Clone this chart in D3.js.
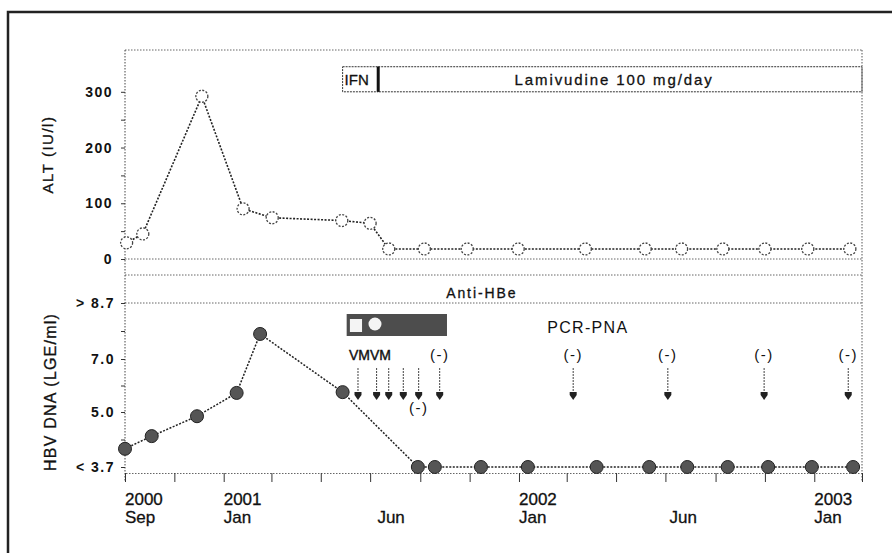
<!DOCTYPE html>
<html>
<head>
<meta charset="utf-8">
<script src="https://cdn.jsdelivr.net/npm/d3@7"></script>
<style>
    body { margin: 0; background: #fff; }
    svg { font-family: "Liberation Sans", Arial, sans-serif; }
</style>
</head>
<body>
<svg width="892" height="553"></svg>
<script>
// ALT readings (IU/l)
var altDates = ["2000-09-03", "2000-09-23", "2000-12-05", "2001-01-25", "2001-03-02", "2001-05-27",
    "2001-07-01", "2001-07-24", "2001-09-06", "2001-10-29", "2001-12-31", "2002-03-24",
    "2002-06-06", "2002-07-21", "2002-09-10", "2002-11-01", "2002-12-24", "2003-02-14"];
var altValues = [29, 45, 292, 90, 74, 69, 64, 18, 18, 18, 18, 18, 18, 18, 18, 18, 18, 18];

// HBV DNA readings (log genome equivalents / ml), 3.7 = below detection
var dnaDates = ["2000-09-01", "2000-10-04", "2000-11-29", "2001-01-17", "2001-02-15", "2001-05-28",
    "2001-08-29", "2001-09-19", "2001-11-15", "2002-01-12", "2002-04-07", "2002-06-11",
    "2002-07-28", "2002-09-16", "2002-11-05", "2002-12-29", "2003-02-18"];
var dnaValues = [4.13, 4.43, 4.9, 5.72, 7.76, 5.75, 3.7, 3.7, 3.7, 3.7, 3.7, 3.7, 3.7, 3.7, 3.7, 3.7, 3.7];

// treatments
var treatNames = ["IFN", "Lamivudine 100 mg/day"];
var treatStarts = ["2001-05-28", "2001-07-11"];
var treatEnds = ["2001-07-11", "2003-03-01"];

// PCR-PNA sampling (arrows) and results
var vmArrowDates = ["2001-06-16", "2001-07-09", "2001-07-24", "2001-08-11", "2001-08-30", "2001-09-25"];
var pcrArrowDates = ["2002-03-09", "2002-07-04", "2002-10-31", "2003-02-12"];
var pcrResultDates = ["2001-09-25", "2002-03-09", "2002-07-04", "2002-10-31", "2003-02-12"];

// axis ticks
var altTicks = [0, 50, 100, 150, 200, 250, 300];
var altTickLabels = {0: "0", 100: "100", 200: "200", 300: "300"};
var dnaTicks = [3.7, 4.35, 5.0, 6.0, 7.0, 7.85, 8.7];
var dnaTickLabels = {3.7: "< 3.7", 5: "5.0", 7: "7.0", 8.7: "> 8.7"};
var xLabelDates = ["2000-09-01", "2001-01-01", "2001-07-10", "2002-01-01", "2002-07-06", "2003-01-01"];
var xLabelYears = ["2000", "2001", "", "2002", "", "2003"];
var xLabelMonths = ["Sep", "Jan", "Jun", "Jan", "Jun", "Jan"];

var parse = d3.timeParse("%Y-%m-%d");

var svg = d3.select("svg"),
    plotLeft = 125,
    plotRight = 862,
    plotTop = 50,
    altZero = 259,
    dnaTop = 275,
    axisY = 473;

// outer frame of the figure
svg.append("rect")
    .attr("x", 8).attr("y", 12)
    .attr("width", 900).attr("height", 560)
    .attr("fill", "none")
    .attr("stroke", "#222")
    .attr("stroke-width", 2.5);

var x = d3.scaleTime()
    .domain([parse("2000-09-01"), parse("2003-03-01")])
    .range([plotLeft, plotRight]);

var yAlt = d3.scaleLinear()
    .domain([0, 375])
    .range([altZero, plotTop]);

// the DNA axis is not linear, labels sit at even steps
var yDna = d3.scaleLinear()
    .domain([3.7, 5.0, 7.0, 8.7])
    .range([467, 412, 359, 303]);

var dotted = "1.5,1.5";

// panel frame lines
var hLines = [plotTop, altZero, dnaTop, yDna(8.7)];
svg.selectAll(".hline")
    .data(hLines)
    .enter().append("line")
    .attr("class", "hline")
    .attr("x1", plotLeft).attr("x2", plotRight)
    .attr("y1", function(d) { return d; })
    .attr("y2", function(d) { return d; })
    .attr("stroke", "#666")
    .attr("stroke-dasharray", dotted);

svg.append("line")
    .attr("x1", plotLeft).attr("x2", plotLeft)
    .attr("y1", plotTop).attr("y2", axisY + 9)
    .attr("stroke", "#444")
    .attr("stroke-dasharray", dotted);

svg.append("line")
    .attr("x1", plotRight).attr("x2", plotRight)
    .attr("y1", plotTop).attr("y2", axisY + 9)
    .attr("stroke", "#555")
    .attr("stroke-dasharray", dotted);

// left axes
var yAltAxis = d3.axisLeft(yAlt)
    .tickValues(altTicks)
    .tickSize(4)
    .tickPadding(8)
    .tickFormat(function(d) { return altTickLabels[d] || ""; });

var yDnaAxis = d3.axisLeft(yDna)
    .tickValues(dnaTicks)
    .tickSize(4)
    .tickPadding(6)
    .tickFormat(function(d) { return dnaTickLabels[d] || ""; });

function styleAxis(g) {
    g.select(".domain").remove();
    g.selectAll(".tick line").attr("stroke", "#333");
    g.selectAll("text")
        .attr("fill", "#111")
        .style("font-size", "14px")
        .style("font-weight", "bold")
        .style("letter-spacing", "1.5px");
}

svg.append("g")
    .attr("transform", "translate(" + plotLeft + ",0)")
    .call(yAltAxis)
    .call(styleAxis);

svg.append("g")
    .attr("transform", "translate(" + plotLeft + ",0)")
    .call(yDnaAxis)
    .call(styleAxis);

// bottom axis, tick every 2 months
var xAxis = d3.axisBottom(x)
    .ticks(d3.timeMonth.every(2))
    .tickSize(9)
    .tickFormat("");

var xg = svg.append("g")
    .attr("transform", "translate(0," + axisY + ")")
    .call(xAxis);
xg.select(".domain")
    .attr("stroke", "#666")
    .attr("stroke-dasharray", dotted);
xg.selectAll(".tick line").attr("stroke", "#333");

var xLabels = svg.append("g")
    .style("font-size", "17px")
    .attr("fill", "#111")
    .attr("stroke", "#111")
    .attr("stroke-width", 0.3);
xLabels.selectAll(".yr")
    .data(xLabelDates)
    .enter().append("text")
    .attr("x", function(d) { return x(parse(d)); })
    .attr("y", 505)
    .text(function(d, i) { return xLabelYears[i]; });
xLabels.selectAll(".mo")
    .data(xLabelDates)
    .enter().append("text")
    .attr("x", function(d) { return x(parse(d)); })
    .attr("y", 523)
    .text(function(d, i) { return xLabelMonths[i]; });

// axis titles
svg.append("text")
    .attr("transform", "translate(53," + (plotTop + altZero) / 2 + ") rotate(-90)")
    .attr("text-anchor", "middle")
    .style("font-size", "15px")
    .style("letter-spacing", "1.5px")
    .attr("fill", "#111")
    .attr("stroke", "#111")
    .attr("stroke-width", 0.3)
    .text("ALT (IU/l)");

svg.append("text")
    .attr("transform", "translate(56,392) rotate(-90)")
    .attr("text-anchor", "middle")
    .style("font-size", "16px")
    .style("letter-spacing", "1.2px")
    .attr("fill", "#111")
    .attr("stroke", "#111")
    .attr("stroke-width", 0.3)
    .text("HBV DNA (LGE/ml)");

// treatment boxes
var boxTop = yAlt(345), boxBottom = yAlt(300);
var boxes = svg.selectAll(".treat")
    .data(treatNames)
    .enter().append("g")
    .attr("class", "treat");
boxes.append("rect")
    .attr("x", function(d, i) { return x(parse(treatStarts[i])); })
    .attr("y", boxTop)
    .attr("width", function(d, i) { return x(parse(treatEnds[i])) - x(parse(treatStarts[i])); })
    .attr("height", boxBottom - boxTop)
    .attr("fill", "none")
    .attr("stroke", "#333")
    .attr("stroke-dasharray", "2,1");
boxes.append("text")
    .attr("x", function(d, i) {
        return i === 0 ? x(parse(treatStarts[i])) + 2
            : (x(parse(treatStarts[i])) + x(parse(treatEnds[i]))) / 2 - 6;
    })
    .attr("y", boxBottom - 7)
    .attr("text-anchor", function(d, i) { return i === 0 ? "start" : "middle"; })
    .style("font-size", "15px")
    .style("letter-spacing", function(d, i) { return i === 0 ? "0px" : "1.9px"; })
    .attr("fill", "#111")
    .attr("stroke", "#111")
    .attr("stroke-width", 0.3)
    .text(function(d) { return d; });
svg.append("line")
    .attr("x1", x(parse(treatStarts[1]))).attr("x2", x(parse(treatStarts[1])))
    .attr("y1", boxTop).attr("y2", boxBottom)
    .attr("stroke", "#111")
    .attr("stroke-width", 3);

// Anti-HBe band label
svg.append("text")
    .attr("x", x(parse("2001-10-03")))
    .attr("y", 298)
    .style("font-size", "14px")
    .style("letter-spacing", "1.9px")
    .attr("fill", "#111")
    .attr("stroke", "#111")
    .attr("stroke-width", 0.3)
    .text("Anti-HBe");

// dark bar under the Anti-HBe band
var barStart = parse("2001-06-02"), barEnd = parse("2001-10-04");
svg.append("rect")
    .attr("x", x(barStart)).attr("y", 314)
    .attr("width", x(barEnd) - x(barStart)).attr("height", 22)
    .attr("fill", "#4d4d4d");
svg.append("rect")
    .attr("x", x(parse("2001-06-06"))).attr("y", 319)
    .attr("width", x(parse("2001-06-21")) - x(parse("2001-06-06"))).attr("height", 13)
    .attr("fill", "#f4f4f4");
svg.append("circle")
    .attr("cx", x(parse("2001-07-07"))).attr("cy", 324)
    .attr("r", 6.5)
    .attr("fill", "#f4f4f4");

// PCR-PNA labels
svg.append("text")
    .attr("x", x(parse("2002-02-05")))
    .attr("y", 333)
    .style("font-size", "16px")
    .style("letter-spacing", "1.3px")
    .attr("fill", "#111")
    .text("PCR-PNA");

svg.append("text")
    .attr("x", x(parse(vmArrowDates[0])) - 9)
    .attr("y", 360)
    .style("font-size", "14px")
    .attr("fill", "#111")
    .attr("stroke", "#111")
    .attr("stroke-width", 0.4)
    .text("VMVM");

svg.selectAll(".res")
    .data(pcrResultDates)
    .enter().append("text")
    .attr("x", function(d) { return x(parse(d)); })
    .attr("y", 360)
    .attr("text-anchor", "middle")
    .style("font-size", "15px")
    .style("letter-spacing", "1.5px")
    .attr("fill", "#111")
    .text("(-)");

svg.append("text")
    .attr("x", x(parse(vmArrowDates[4])))
    .attr("y", 413)
    .attr("text-anchor", "middle")
    .style("font-size", "15px")
    .style("letter-spacing", "1.5px")
    .attr("fill", "#111")
    .text("(-)");

// sampling arrows
var arrows = svg.selectAll(".arrow")
    .data(vmArrowDates.concat(pcrArrowDates))
    .enter().append("g")
    .attr("class", "arrow")
    .attr("transform", function(d) { return "translate(" + x(parse(d)) + ",0)"; });
arrows.append("line")
    .attr("y1", 368).attr("y2", 393)
    .attr("stroke", "#444")
    .attr("stroke-dasharray", "2,1");
arrows.append("path")
    .attr("d", "M-3.5,392L3.5,392L3.5,395L0,400L-3.5,395Z")
    .attr("fill", "#222");

// ALT series
var altLine = d3.line()
    .x(function(d) { return x(parse(d)); })
    .y(function(d, i) { return yAlt(altValues[i]); });

svg.append("path")
    .datum(altDates)
    .attr("d", altLine)
    .attr("fill", "none")
    .attr("stroke", "#222")
    .attr("stroke-width", 1.6)
    .attr("stroke-dasharray", "2,1.5");

svg.selectAll(".alt")
    .data(altDates)
    .enter().append("circle")
    .attr("class", "alt")
    .attr("cx", function(d) { return x(parse(d)); })
    .attr("cy", function(d, i) { return yAlt(altValues[i]); })
    .attr("r", 6)
    .attr("fill", "#fff")
    .attr("stroke", "#444")
    .attr("stroke-width", 1.3)
    .attr("stroke-dasharray", "2,1.5");

// HBV DNA series
var dnaLine = d3.line()
    .x(function(d) { return x(parse(d)); })
    .y(function(d, i) { return yDna(dnaValues[i]); });

svg.append("path")
    .datum(dnaDates)
    .attr("d", dnaLine)
    .attr("fill", "none")
    .attr("stroke", "#222")
    .attr("stroke-width", 1.5)
    .attr("stroke-dasharray", "2,1.5");

svg.selectAll(".dna")
    .data(dnaDates)
    .enter().append("circle")
    .attr("class", "dna")
    .attr("cx", function(d) { return x(parse(d)); })
    .attr("cy", function(d, i) { return yDna(dnaValues[i]); })
    .attr("r", 6.5)
    .attr("fill", "#555")
    .attr("stroke", "#222")
    .attr("stroke-width", 1);
</script>
</body>
</html>
